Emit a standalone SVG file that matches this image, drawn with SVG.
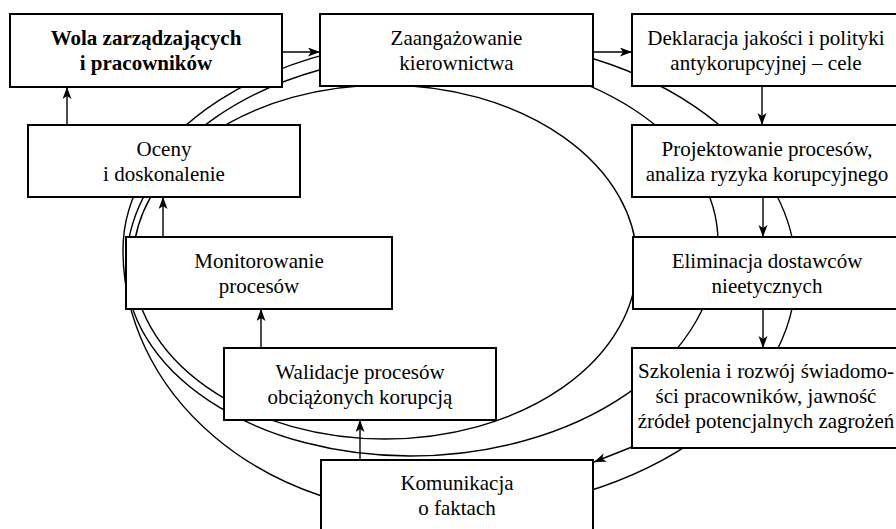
<svg xmlns="http://www.w3.org/2000/svg" width="896" height="529" viewBox="0 0 896 529">
<defs>
<marker id="ah" markerUnits="userSpaceOnUse" markerWidth="14" markerHeight="10" refX="12" refY="4.5" orient="auto">
<path d="M0,0 L12,4.5 L0,9 L3,4.5 z" fill="#000"/>
</marker>
<style>
.box{fill:#fff;stroke:#000;stroke-width:2}
.ring{fill:none;stroke:#000;stroke-width:1.4}
.arr{fill:none;stroke:#000;stroke-width:1.4;marker-end:url(#ah)}
.t{font-size:21px;fill:#000;text-anchor:middle}
.b{font-weight:bold}
</style>
</defs>
<rect width="896" height="529" fill="#fff"/>
<g id="rings">
<path class="ring" d="M123,250 A329,212 0 0 1 452,38 A344,235 0 0 1 796,273 A361,241 0 0 1 435,514 A312,264 0 0 1 123,250 Z"/>
<path class="ring" d="M126,268 A306,213 0 0 1 432,55 A286,187 0 0 1 718,242 A308,214 0 0 1 410,456 A284,188 0 0 1 126,268 Z"/>
<ellipse class="ring" cx="385" cy="262" rx="252" ry="177"/>
</g>
<g font-family="'Liberation Serif', 'Times New Roman', serif">
<g id="wola"><rect class="box" x="10" y="14" width="272" height="73"/><text class="t b" x="146" y="45">Wola zarządzających</text><text class="t b" x="146" y="70">i pracowników</text></g>
<g id="zaang"><rect class="box" x="320" y="14" width="273" height="72"/><text class="t" x="456.5" y="44.5">Zaangażowanie</text><text class="t" x="456.5" y="69.5">kierownictwa</text></g>
<g id="dekl"><rect class="box" x="632" y="14" width="270" height="72"/><text class="t" x="766" y="44.5">Deklaracja jakości i polityki</text><text class="t" x="766" y="69.5">antykorupcyjnej – cele</text></g>
<g id="oceny"><rect class="box" x="28" y="125" width="272" height="72"/><text class="t" x="164" y="156">Oceny</text><text class="t" x="164" y="181">i doskonalenie</text></g>
<g id="proj"><rect class="box" x="632" y="125" width="270" height="72"/><text class="t" x="767" y="156">Projektowanie procesów,</text><text class="t" x="767" y="181">analiza ryzyka korupcyjnego</text></g>
<g id="monit"><rect class="box" x="126" y="237" width="266" height="72"/><text class="t" x="259" y="268">Monitorowanie</text><text class="t" x="259" y="293">procesów</text></g>
<g id="elim"><rect class="box" x="633" y="237" width="270" height="72"/><text class="t" x="767" y="268">Eliminacja dostawców</text><text class="t" x="767" y="293">nieetycznych</text></g>
<g id="walid"><rect class="box" x="224" y="348" width="272" height="72"/><text class="t" x="360" y="378.5">Walidacje procesów</text><text class="t" x="360" y="403.5">obciążonych korupcją</text></g>
<g id="szk"><rect class="box" x="632" y="348" width="270" height="100"/><text class="t" x="766" y="378">Szkolenia i rozwój świadomo-</text><text class="t" x="766" y="403">ści pracowników, jawność</text><text class="t" x="766" y="428">źródeł potencjalnych zagrożeń</text></g>
<g id="komun"><rect class="box" x="321" y="460" width="272" height="75"/><text class="t" x="457" y="490">Komunikacja</text><text class="t" x="457" y="515">o faktach</text></g>
</g>
<g id="connectors">
<line class="arr" x1="282" y1="52" x2="320" y2="52"/>
<line class="arr" x1="593" y1="52" x2="632" y2="52"/>
<line class="arr" x1="762" y1="86" x2="762" y2="125"/>
<line class="arr" x1="763" y1="197" x2="763" y2="237"/>
<line class="arr" x1="763" y1="309" x2="763" y2="348"/>
<line class="arr" x1="632" y1="447" x2="594" y2="462"/>
<line class="arr" x1="360" y1="460" x2="360" y2="420"/>
<line class="arr" x1="261" y1="348" x2="261" y2="309"/>
<line class="arr" x1="163" y1="237" x2="163" y2="197"/>
<line class="arr" x1="67" y1="125" x2="67" y2="87"/>
</g>
</svg>
